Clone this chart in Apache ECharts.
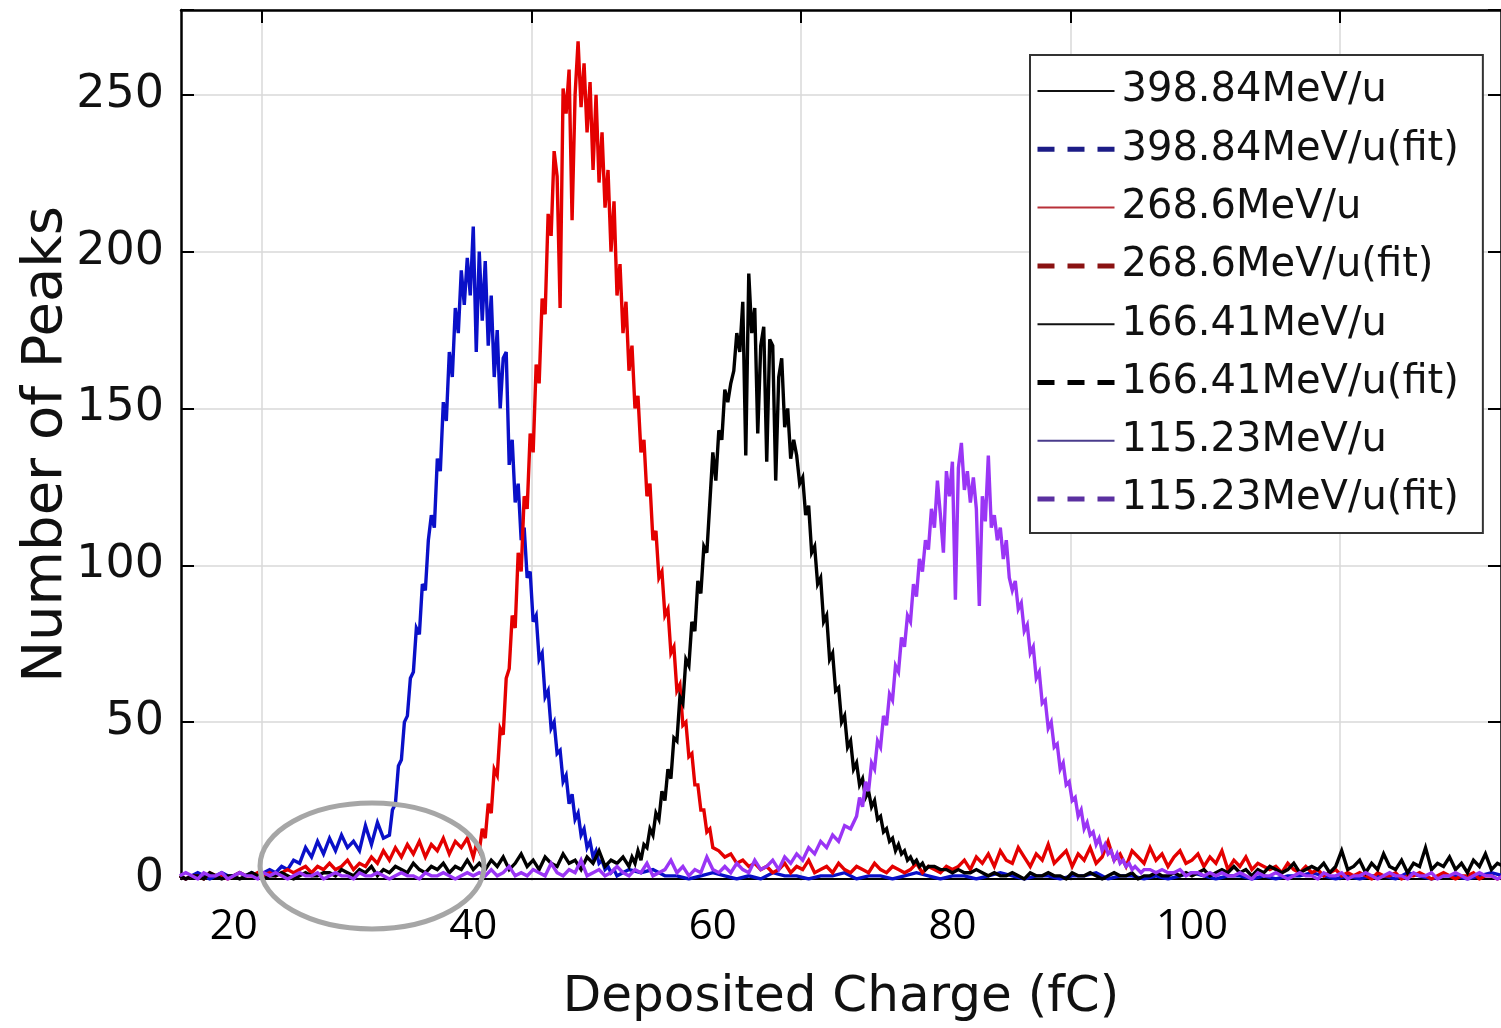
<!DOCTYPE html>
<html><head><meta charset="utf-8">
<script src="https://cdn.jsdelivr.net/npm/echarts@6/dist/echarts.min.js"></script>
<style>html,body{margin:0;padding:0;background:#fff}#chart{width:1501px;height:1028px}</style>
</head><body><div id="chart"></div>
<script>
// ---------------- DATA ----------------
const seriesNames = ['398.84MeV/u','398.84MeV/u(fit)','268.6MeV/u','268.6MeV/u(fit)','166.41MeV/u','166.41MeV/u(fit)','115.23MeV/u','115.23MeV/u(fit)'];
const xTickLabels = [20, 40, 60, 80, 100];
const yTickValues = [0, 50, 100, 150, 200, 250];
// histogram bin widths (fC)
const FINE = 0.25, COARSE = 0.5, WIDE = 1;

// 398.84 MeV/u
const blueLeftStart = 15.5;  // step COARSE
const blueLeft = [1,0,1,2,1,0,1,2,1,1, 2,1,2,1,2,3,2,4,3,6, 5,10,7,12,8,13,9,14,10,12, 9,17,11,18,13];
const bluePeakStart = 33;    // step FINE
const bluePeak = [14,22,24,36,38,50,52,64,66,80, 78,94,92,108,116,112,134,130,152,146, 168,160,182,174,194,183,198,186,208,168, 200,178,197,170,186,160,175,150,166,168, 132,140,120,126,108,112,96,98,82,84, 70,72,58,60,48,50,40,41,31,33, 24,27,19,21,14,16,10,12,7,9, 5,6,3,4,2,3,1];
const blueRightStart = 53;   // step WIDE
const blueRight = [3,2,3,1,1,0,1,2,1,0, 1,0,2,1,1,0,1,1,2,0, 1,1,0,1,2,1,0,1,1,0, 1,2,1,0,1,1,0,1,1,2, 0,1,1,0,1,0,1,2,1,0, 1,1,0,1,0,1,1,2,1,0, 1,0,1,1,0,2,1,0,1,1, 0,1,2,1];

// 268.6 MeV/u
const redLeftStart = 15.5;   // step COARSE
const redLeft = [1,0,1,1,0,2,1,1,0,1, 2,1,1,2,1,2,1,2,3,2, 3,4,2,4,3,5,3,4,6,3, 5,4,7,5,9,6,10,7,11,8, 12,7,11,9,13,8,12,10,13];
const redPeakStart = 40;     // step FINE
const redPeak = [7,11,9,16,13,24,21,35,33,48, 46,64,67,84,80,104,98,122,118,142, 136,164,158,185,180,212,205,232,224,182, 252,244,258,210,250,267,246,260,238,254, 226,250,222,238,214,226,200,216,186,196, 174,184,162,170,150,154,136,140,122,126, 108,111,96,98,84,86,72,74,60,62, 49,50,39,40,30,30,22,22,15,16, 10];
const redRightStart = 60.5;  // step COARSE
const redRight = [9,7,8,5,6,4,5,3, 4,2,3,5,2,4,3,6,2,3, 4,2,5,3,2,4,3,2,5,3, 2,4,3,2,3,5,2,4,3,2, 4,3, 4,6,3,7,5,8,4,9,6,5, 10,7,4,8,6,11,5,7,9,4, 8,6,10,5,7,12,6,8,4,9, 7,5,10,6,8,4,7,9,5,6, 8,4,7,5,9,3,6,4,7,3, 5,4, 3,4,2,5,3,2,4,2,3,1, 2,3,1,2,1,2,1,0,2,1, 1,2,0,1,1,2,1,0,1,2, 1,0,1,1,2,0,1,1,0,1];

// 166.41 MeV/u
const blackLeftStart = 15.5; // step COARSE
const blackLeft = [1,0,1,1,0,2,1,0,1,1, 0,1,2,1,0,1,1,2,1,0, 1,2,1,1,2, 2,1,3,2,1,3,2,4,1,3, 2,4,3,2,5,3,2,4,3,5, 2,4,3,6,3, 5,3,6,4,7,3,5,8,4,6, 3,7,5,4,8,5,6,3,7,5, 9,4,6,5,7];
const blackPeakStart = 53;   // step FINE
const blackPeak = [4,7,5,9,6,11,10,16,14,21, 19,28,25,35,32,45,44,58,56,70, 68,82,79,95,91,106,104,120,136,127, 143,140,156,152,158,162,174,168,184,135, 193,174,182,142,170,176,133,172,170,127, 160,166,144,150,134,140,135,126,128,116, 119,104,106,94,96,82,84,70,72,60, 61,50,52,42,44,35,37,30,32,26, 28,23,25,19,20,15,16,12,13,9, 11,8,9,6,7,5,6,4,5,3, 4];
const blackRightStart = 78.5; // step COARSE
const blackRight = [4,3,3,2,3,2,2,3, 2,1,2,1,1,2,1,0,2,1, 1,2,1,1,0,2,1,1,2,1, 0,1,2,1,1,2,0,1,1,2, 1,1,2,1,2,1, 2,3,1,2,3,2,4,2,3,1, 3,2,4,3,2,3,5,2,3,4, 3,5,2,4,9,3,4,6,2,5, 3,8,4,3,6,2,5,4,10,3, 5,4,7,3,5,2,6,4,8,3, 5,4];

// 115.23 MeV/u
const purpleLeftStart = 15.5; // step COARSE
const purpleLeft = [1,2,1,0,2,1,1,2,0,1, 2,1,1,0,2,1,2,1,0,1, 2,1,1,2,0,1,2,1,1,0, 2,1,1,2,1,0,1,2,1,1, 0,2,1,1,2,1,0,1,2, 1,2,1,3,1,2,4,1,2,1, 3,2,1,5,2,1,3,2,6,1, 2,3,1,2,4,2,1,3,2,5, 1,2,3,6,2,4,1,3,2,7, 3,2,4,2,5,3,2,6,3, 4,6,3,7,5,8,6,10,8,12,10,14,12,17,16];
const purplePeakStart = 72;   // step FINE
const purplePeak = [20,26,23,31,28,37,35,44,42,52, 49,59,57,68,66,77,74,84,82,94, 90,102,98,108,105,118,112,127,116,104, 130,122,133,89,131,139,124,130,120,128, 118,87,122,114,135,112,116,108,112,102, 108,96,92,95,86,88,79,81,72,74, 64,66,56,57,48,50,42,43,35,37, 30,31,25,26,20,22,16,18,14,15, 11,13,9,11,8,9,6,8,5,6, 4,5,3,4,3,2,3];
const purpleRightStart = 96.5; // step COARSE
const purpleRight = [3,2,3,2,2,3,1,2,2,1, 2,1,2,1,1,2,1,0,2,1, 1,2,1,0,1,2,1,1,0,2, 1,1,2,0,1,1,2,1,0,1, 2,1,1,0,2,1,1,2,0,1, 1,2,1,0,1,2,1,1,0,1];

// --------------- BUILD ----------------
function bins(start, step, values) {
  return values.map((v, i) => [Math.round((start + i * step) * 100) / 100, v]);
}
const blueData = [...bins(blueLeftStart, COARSE, blueLeft), ...bins(bluePeakStart, FINE, bluePeak), ...bins(blueRightStart, WIDE, blueRight)];
const redData = [...bins(redLeftStart, COARSE, redLeft), ...bins(redPeakStart, FINE, redPeak), ...bins(redRightStart, COARSE, redRight)];
const blackData = [...bins(blackLeftStart, COARSE, blackLeft), ...bins(blackPeakStart, FINE, blackPeak), ...bins(blackRightStart, COARSE, blackRight)];
const purpleData = [...bins(purpleLeftStart, COARSE, purpleLeft), ...bins(purplePeakStart, FINE, purplePeak), ...bins(purpleRightStart, COARSE, purpleRight)];

const X_MIN = 15.6, X_MAX = 125.8, Y_MAX = 277;
const GRID_COLOR = '#d9d9d9';
const FONT = 'DejaVu Sans';
const DASH = [17, 13];

function dataSeries(name, data, color) {
  return { name, type: 'line', data, xAxisIndex: 0, yAxisIndex: 0, symbol: 'none', showSymbol: false,
    silent: true, lineStyle: { color, width: 3.4, join: 'miter', miterLimit: 4 }, itemStyle: { color }, emphasis: { disabled: true } };
}
function fitSeries(name, color) {
  // fitted curves are hidden under the measured histograms in the figure
  return { name, type: 'line', data: [], xAxisIndex: 0, yAxisIndex: 0, symbol: 'none', showSymbol: false,
    silent: true, lineStyle: { color, width: 5, type: DASH }, itemStyle: { color } };
}

const chart = echarts.init(document.getElementById('chart'), null, { renderer: 'canvas' });
chart.setOption({
  animation: false,
  backgroundColor: '#ffffff',
  grid: [
    { left: 181, top: 10, width: 1328, height: 871 },
    { left: 262, top: 10, width: 1078, height: 871 }
  ],
  xAxis: [
    { type: 'value', gridIndex: 0, position: 'bottom', min: X_MIN, max: X_MAX,
      axisLine: { show: true, onZero: false, lineStyle: { color: '#000', width: 2 } },
      axisTick: { show: false }, splitLine: { show: false },
      axisLabel: { show: true, customValues: xTickLabels, fontFamily: 'Open Sans', fontSize: 42, color: '#000', margin: 27 },
      name: 'Deposited Charge (fC)', nameLocation: 'middle', nameGap: 94,
      nameTextStyle: { fontFamily: FONT, fontSize: 50, color: '#111' } },
    { type: 'value', gridIndex: 0, position: 'top', min: X_MIN, max: X_MAX,
      axisLine: { show: true, onZero: false, lineStyle: { color: '#000', width: 2.5 } },
      axisTick: { show: false }, axisLabel: { show: false }, splitLine: { show: false } },
    { type: 'value', gridIndex: 1, position: 'top', min: 0, max: 4, interval: 1,
      axisLine: { show: false, onZero: false }, axisLabel: { show: false },
      axisTick: { show: true, inside: true, length: 13, lineStyle: { color: '#000', width: 2 } },
      splitLine: { show: true, lineStyle: { color: GRID_COLOR, width: 1.5 } } }
  ],
  yAxis: [
    { type: 'value', gridIndex: 0, position: 'left', min: 0, max: Y_MAX, interval: 50,
      axisLine: { show: true, onZero: false, lineStyle: { color: '#000', width: 2.5 } },
      axisTick: { show: true, inside: true, length: 13, lineStyle: { color: '#000', width: 2 } },
      axisLabel: { fontFamily: FONT, fontSize: 46, color: '#111', margin: 17,
        formatter: v => (yTickValues.indexOf(v) >= 0 ? String(v) : '') },
      splitLine: { show: true, lineStyle: { color: GRID_COLOR, width: 1.5 } },
      name: 'Number of Peaks', nameLocation: 'middle', nameGap: 107, nameRotate: 90, nameMoveOverlap: false,
      nameTextStyle: { fontFamily: FONT, fontSize: 56, color: '#111' } },
    { type: 'value', gridIndex: 0, position: 'right', min: 0, max: Y_MAX, interval: 50,
      axisLine: { show: true, onZero: false, lineStyle: { color: '#000', width: 2.5 } },
      axisTick: { show: true, inside: true, length: 13, lineStyle: { color: '#000', width: 2 } },
      axisLabel: { show: false }, splitLine: { show: false } },
    { type: 'value', gridIndex: 1, min: 0, max: Y_MAX, show: false }
  ],
  legend: {
    orient: 'vertical', left: 1030, top: 55,
    padding: [16, 24, 14, 5],
    itemWidth: 77, itemHeight: 40, itemGap: 18.3,
    backgroundColor: '#fff', borderColor: '#333', borderWidth: 2, borderRadius: 0,
    selectedMode: false,
    textStyle: { fontFamily: FONT, fontSize: 40, color: '#111', lineHeight: 40, padding: [0, 0, 0, 2] },
    itemStyle: { opacity: 0 },
    data: [
      { name: seriesNames[0], lineStyle: { color: '#111', width: 2, type: 'solid' } },
      { name: seriesNames[1], lineStyle: { color: '#1c1c86', width: 5, type: DASH } },
      { name: seriesNames[2], lineStyle: { color: '#b83038', width: 2, type: 'solid' } },
      { name: seriesNames[3], lineStyle: { color: '#8a1212', width: 5, type: DASH } },
      { name: seriesNames[4], lineStyle: { color: '#111', width: 2, type: 'solid' } },
      { name: seriesNames[5], lineStyle: { color: '#000', width: 5, type: DASH } },
      { name: seriesNames[6], lineStyle: { color: '#4a3c8c', width: 2, type: 'solid' } },
      { name: seriesNames[7], lineStyle: { color: '#5a30a0', width: 5, type: DASH } }
    ]
  },
  series: [
    dataSeries(seriesNames[0], blueData, '#0a10c8'),
    fitSeries(seriesNames[1], '#1c1c86'),
    dataSeries(seriesNames[2], redData, '#e40000'),
    fitSeries(seriesNames[3], '#8a1212'),
    dataSeries(seriesNames[4], blackData, '#000000'),
    fitSeries(seriesNames[5], '#000000'),
    dataSeries(seriesNames[6], purpleData, '#9a35f5'),
    fitSeries(seriesNames[7], '#5a30a0')
  ],
  graphic: [
    { type: 'ellipse', z: 100, silent: true,
      shape: { cx: 372, cy: 866, rx: 112, ry: 63 },
      style: { fill: 'none', stroke: '#a6a6a6', lineWidth: 5 } }
  ]
});
</script>
</body></html>
